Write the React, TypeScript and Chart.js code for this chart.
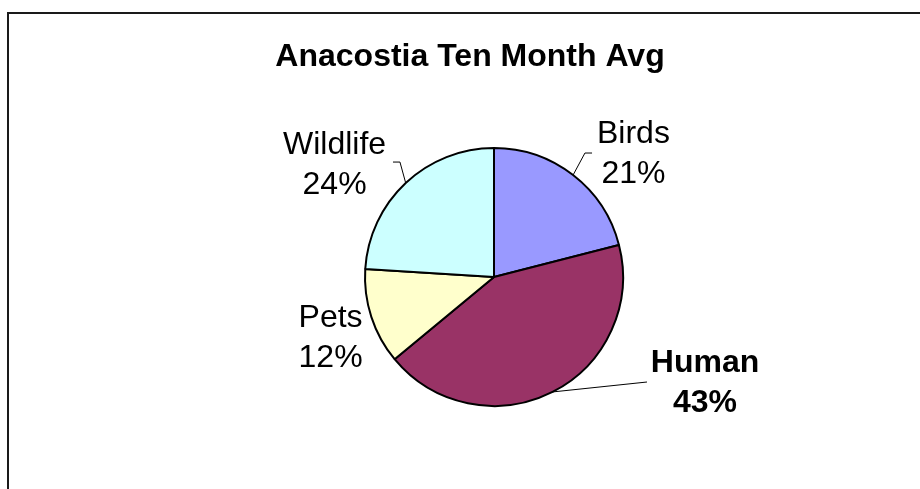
import React, { useEffect, useRef } from "react";
import { Chart, registerables } from "chart.js";

Chart.register(...registerables);

const title = "Anacostia Ten Month Avg";
const categories = ["Birds", "Human", "Pets", "Wildlife"];
const values = [21, 43, 12, 24];
const percentLabels = ["21%", "43%", "12%", "24%"];
const colors = ["#9999FF", "#993366", "#FFFFCC", "#CCFFFF"];

// label placement, in units of the pie radius, relative to the pie centre
const labelPlacement = [
  { dx: 1.081, dy: -0.973, bold: false, elbow: [0.705, -0.961], end: [0.76, -0.961] },
  { dx: 1.636, dy: 0.802, bold: true, elbow: [1.186, 0.814], end: [1.186, 0.814] },
  { dx: -1.267, dy: 0.45, bold: false, elbow: null, end: null },
  { dx: -1.236, dy: -0.891, bold: false, elbow: [-0.729, -0.891], end: [-0.783, -0.891] },
];

const FONT = "'Liberation Sans', Arial, sans-serif";

const decorPlugin = {
  id: "decor",
  beforeDraw(chart: any) {
    const ctx = chart.ctx;
    ctx.save();
    ctx.fillStyle = "#ffffff";
    ctx.fillRect(0, 0, chart.width, chart.height);
    ctx.strokeStyle = "#1a1a1a";
    ctx.lineWidth = 2;
    ctx.beginPath();
    ctx.moveTo(8, chart.height);
    ctx.lineTo(8, 13);
    ctx.lineTo(chart.width, 13);
    ctx.stroke();
    ctx.fillStyle = "#000";
    ctx.font = `bold 32px ${FONT}`;
    ctx.textAlign = "center";
    ctx.textBaseline = "alphabetic";
    ctx.fillText(title, 470, 66);
    ctx.restore();
  },
  afterDatasetsDraw(chart: any) {
    const ctx = chart.ctx;
    const meta = chart.getDatasetMeta(0);
    ctx.save();
    meta.data.forEach((arc: any, i: number) => {
      const { x, y, startAngle, endAngle, outerRadius } = arc.getProps(
        ["x", "y", "startAngle", "endAngle", "outerRadius"],
        true
      );
      const r = outerRadius;
      const p = labelPlacement[i];
      const mid = (startAngle + endAngle) / 2;
      if (p.elbow && p.end) {
        ctx.strokeStyle = "#000";
        ctx.lineWidth = 1;
        ctx.beginPath();
        ctx.moveTo(x + Math.cos(mid) * r, y + Math.sin(mid) * r);
        ctx.lineTo(x + p.elbow[0] * r, y + p.elbow[1] * r);
        ctx.lineTo(x + p.end[0] * r, y + p.end[1] * r);
        ctx.stroke();
      }
      const cx = x + p.dx * r;
      const cy = y + p.dy * r;
      ctx.fillStyle = "#000";
      ctx.font = `${p.bold ? "bold " : ""}32px ${FONT}`;
      ctx.textAlign = "center";
      ctx.textBaseline = "alphabetic";
      ctx.fillText(categories[i], cx, cy - 20 + 11.5);
      ctx.fillText(percentLabels[i], cx, cy + 20 + 11.5);
    });
    ctx.restore();
  },
};

export default function App() {
  const ref = useRef<HTMLCanvasElement | null>(null);
  useEffect(() => {
    if (!ref.current) return;
    const chart = new Chart(ref.current, {
      type: "pie",
      data: {
        labels: categories,
        datasets: [
          {
            data: values,
            backgroundColor: colors,
            borderColor: "#000",
            borderWidth: 2,
            radius: 129,
          } as any,
        ],
      },
      options: {
        responsive: false,
        animation: false,
        layout: { padding: { left: 364, right: 296, top: 147, bottom: 82 } },
        plugins: {
          legend: { display: false },
          title: { display: false },
          tooltip: { enabled: false },
        },
      },
      plugins: [decorPlugin],
    });
    return () => chart.destroy();
  }, []);
  return (
    <div style={{ position: "fixed", left: 0, top: 0, width: 920, height: 489, background: "#fff" }}>
      <canvas ref={ref} width={920} height={489} style={{ display: "block" }} />
    </div>
  );
}
